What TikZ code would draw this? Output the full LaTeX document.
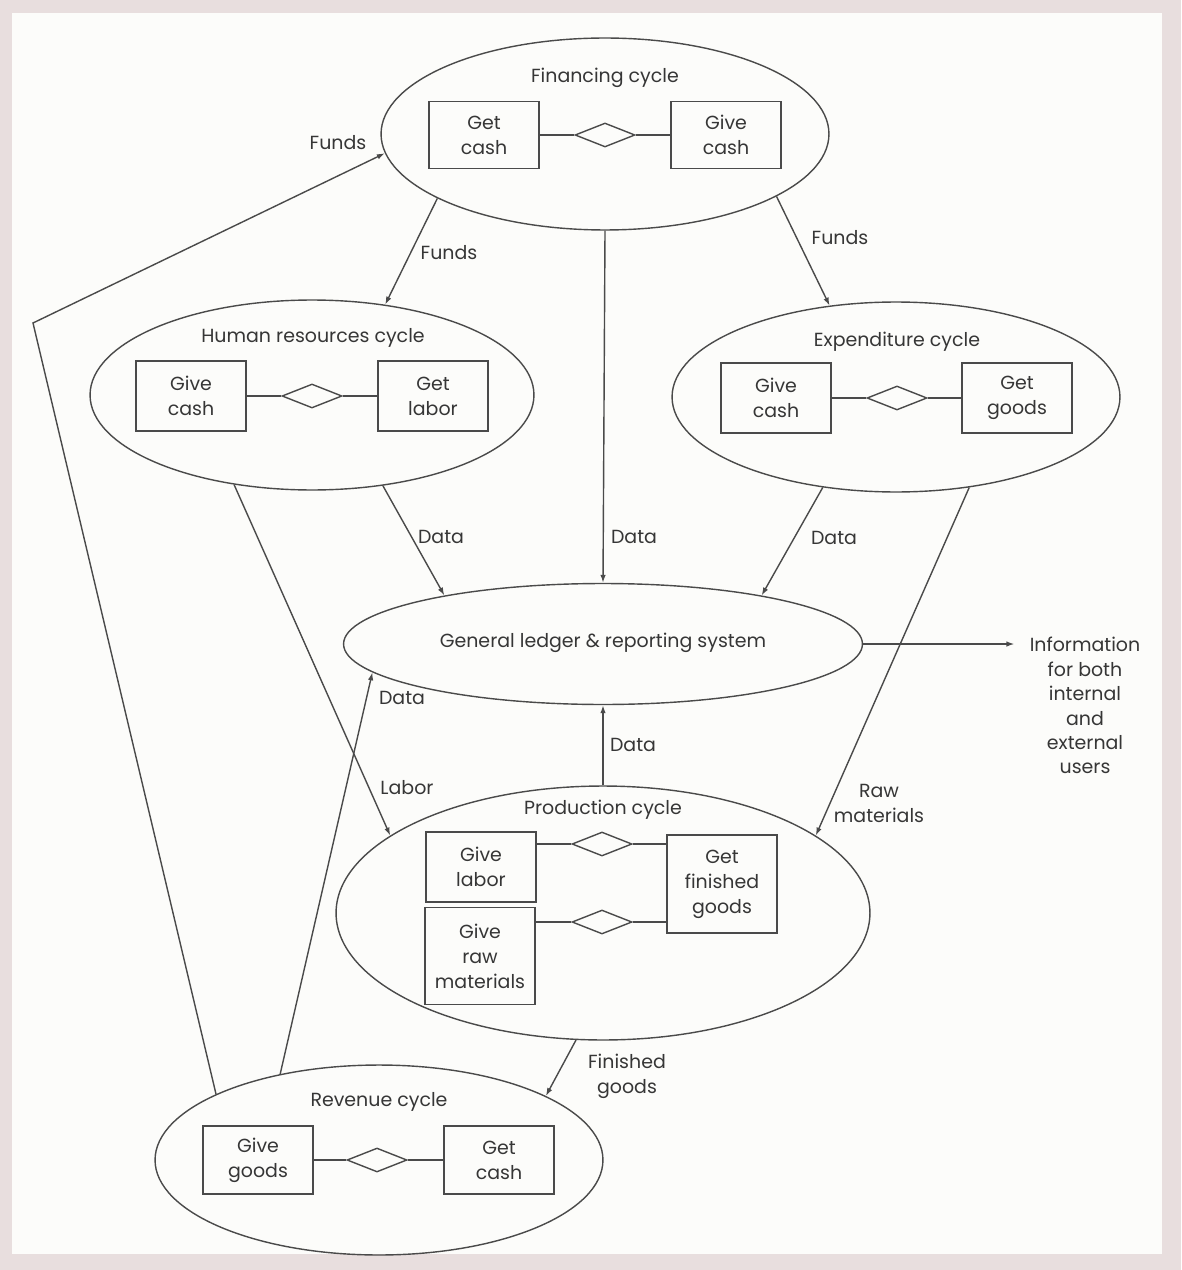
\documentclass[tikz,border=0pt]{standalone}
\usepackage{fontspec}
\setmainfont{Poppins}
\usetikzlibrary{shapes.geometric,arrows.meta}
\definecolor{ink}{HTML}{363636}
\definecolor{rule}{HTML}{4A4A4A}
\definecolor{paper}{HTML}{FCFCFA}
\definecolor{edge}{HTML}{E8DEDE}

\begin{document}
\begin{tikzpicture}[x=0.02cm,y=-0.02cm,
  every node/.style={text=ink, font=\fontsize{10.8}{14.2}\selectfont},
  cycle/.style={draw=rule, line width=0.8pt, ellipse, inner sep=0pt},
  entity/.style={draw=rule, line width=0.8pt, rectangle, minimum width=2.2cm,
                 align=center, inner sep=0pt},
  rel/.style={draw=rule, line width=0.8pt, diamond, minimum width=1.2cm,
              minimum height=0.48cm, inner sep=0pt},
  link/.style={draw=rule, line width=0.8pt},
  flow/.style={link, -{Latex[length=1.6mm,width=1.1mm]}},
  lbl/.style={align=center, inner sep=0pt}
]
\useasboundingbox (0,0) rectangle (1181,1270);
% page and its margin
\fill[edge] (0,0) rectangle (1181,1270);
\fill[paper] (12,13) rectangle (1162,1254);

% ---- Financing cycle ----
\node[cycle, minimum width=8.96cm, minimum height=3.84cm] (fin) at (605,134) {};
\node[lbl] (fint) at (605,78) {Financing cycle};
\node[entity, minimum height=1.34cm] (fin1) at (484,135) {Get\\cash};
\node[rel] (finr) at (605,135) {};
\node[entity, minimum height=1.34cm] (fin2) at (726,135) {Give\\cash};
\draw[link] (fin1) -- (finr) -- (fin2);

% ---- Human resources cycle ----
\node[cycle, minimum width=8.88cm, minimum height=3.8cm] (hr) at (312,395) {};
\node[lbl] (hrt) at (313,338) {Human resources cycle};
\node[entity, minimum height=1.4cm] (hr1) at (191,396) {Give\\cash};
\node[rel] (hrr) at (312,396) {};
\node[entity, minimum height=1.4cm] (hr2) at (433,396) {Get\\labor};
\draw[link] (hr1) -- (hrr) -- (hr2);

% ---- Expenditure cycle ----
\node[cycle, minimum width=8.96cm, minimum height=3.8cm] (exp) at (896,397) {};
\node[lbl] (expt) at (897,342) {Expenditure cycle};
\node[entity, minimum height=1.4cm] (exp1) at (776,398) {Give\\cash};
\node[rel] (expr) at (897,398) {};
\node[entity, minimum height=1.4cm] (exp2) at (1017,398) {Get\\goods};
\draw[link] (exp1) -- (expr) -- (exp2);

% ---- General ledger ----
\node[cycle, minimum width=10.38cm, minimum height=2.42cm] (gl) at (603,644) {};
\node[lbl] (glt) at (603,643) {General ledger \& reporting system};

% ---- Production cycle ----
\node[cycle, minimum width=10.68cm, minimum height=5.08cm] (prod) at (603,913) {};
\node[lbl] (prodt) at (603,810) {Production cycle};
\node[entity, minimum height=1.4cm] (pglab) at (481,867) {Give\\labor};
\node[entity, minimum height=1.94cm] (pgraw) at (480,956) {Give\\raw\\materials};
\node[entity, minimum height=1.96cm] (pgfin) at (722,884) {Get\\finished\\goods};
\node[rel] (pr1) at (602,844) {};
\node[rel] (pr2) at (602,922) {};
\draw[link] (pr1.west -| pglab.east) -- (pr1.west);
\draw[link] (pr1.east) -- (pr1.east -| pgfin.west);
\draw[link] (pr2.west -| pgraw.east) -- (pr2.west);
\draw[link] (pr2.east) -- (pr2.east -| pgfin.west);

% ---- Revenue cycle ----
\node[cycle, minimum width=8.96cm, minimum height=3.8cm] (rev) at (379,1160) {};
\node[lbl] (revt) at (379,1102) {Revenue cycle};
\node[entity, minimum height=1.36cm] (rev1) at (258,1160) {Give\\goods};
\node[rel] (revr) at (377,1160) {};
\node[entity, minimum height=1.36cm] (rev2) at (499,1160) {Get\\cash};
\draw[link] (rev1) -- (revr) -- (rev2);

% ---- external users ----
\node[align=center, inner xsep=0.3cm, inner ysep=0pt, anchor=north,
      font=\fontsize{10.8}{13.9}\selectfont] (info) at (1085,637)
  {Information\\for both\\internal\\and\\external\\users};

% ---- flows ----
\coordinate (bend) at (33,323);
\draw[flow] (rev.158) -- (bend) -- (fin.185);
\draw[flow] (fin.201) -- (hr.51);
\draw[flow] (fin.340) -- (exp.126);
\draw[flow] (fin.south) -- (gl.north);
\draw[flow] (hr.308) -- (gl.163);
\draw[flow] (exp.231) -- (gl.17);
\draw[flow] (hr.229) -- (prod.160);
\draw[flow] (exp.309) -- (prod.20);
\draw[flow] (prod.north) -- (gl.south);
\draw[flow] (rev.139) -- (gl.187);
\draw[flow] (prod.258) -- (rev.21);
\draw[flow] (gl.east) -- (gl.east -| info.west);

% ---- flow labels ----
\node[lbl] (l1) at (338,143) {Funds};
\node[lbl] (l2) at (449,253) {Funds};
\node[lbl] (l3) at (840,238) {Funds};
\node[lbl] (l4) at (441,537) {Data};
\node[lbl] (l5) at (634,537) {Data};
\node[lbl] (l6) at (834,538) {Data};
\node[lbl] (l7) at (402,698) {Data};
\node[lbl] (l8) at (633,745) {Data};
\node[lbl] (l9) at (407,788) {Labor};
\node[lbl] (l10) at (879,803) {Raw\\materials};
\node[lbl] (l11) at (627,1076) {Finished\\goods};
\end{tikzpicture}
\end{document}
